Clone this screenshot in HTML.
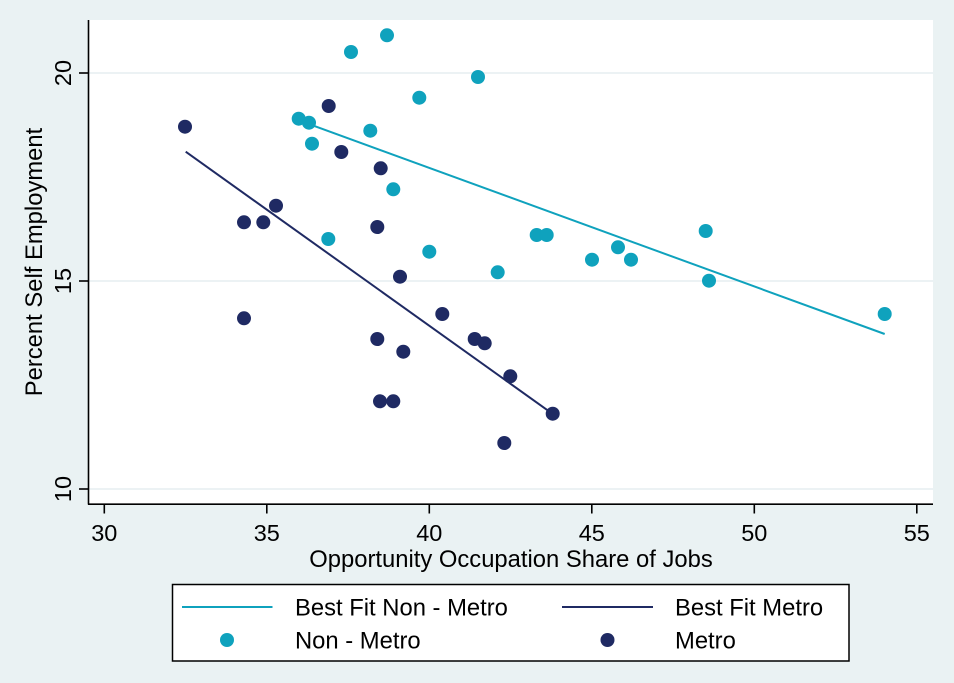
<!DOCTYPE html>
<html>
<head>
<meta charset="utf-8">
<style>
  html,body{margin:0;padding:0;background:#eaf2f3;}
  svg{display:block;}
  text{font-family:"Liberation Sans",Arial,sans-serif;fill:#000;}
</style>
</head>
<body>
<svg width="954" height="683" viewBox="0 0 954 683" xmlns="http://www.w3.org/2000/svg">
  <rect x="0" y="0" width="954" height="683" fill="#eaf2f3"/>
  <rect x="88" y="20" width="845" height="484" fill="#ffffff"/>
  <g stroke="#e6eef0" stroke-width="1.6">
    <line x1="89" y1="73" x2="933" y2="73"/>
    <line x1="89" y1="281" x2="933" y2="281"/>
    <line x1="89" y1="489" x2="933" y2="489"/>
  </g>
  <g stroke="#000" stroke-width="1.6" fill="none">
    <line x1="88.5" y1="20" x2="88.5" y2="504.5"/>
    <line x1="88" y1="504.2" x2="933" y2="504.2"/>
    <line x1="79" y1="73" x2="88" y2="73"/>
    <line x1="79" y1="281" x2="88" y2="281"/>
    <line x1="79" y1="489" x2="88" y2="489"/>
    <line x1="104.3" y1="504" x2="104.3" y2="513.5"/>
    <line x1="266.8" y1="504" x2="266.8" y2="513.5"/>
    <line x1="429.3" y1="504" x2="429.3" y2="513.5"/>
    <line x1="591.8" y1="504" x2="591.8" y2="513.5"/>
    <line x1="754.3" y1="504" x2="754.3" y2="513.5"/>
    <line x1="916.8" y1="504" x2="916.8" y2="513.5"/>
  </g>
  <g font-size="23.5" text-anchor="middle">
    <text transform="translate(71,73) rotate(-90)">20</text>
    <text transform="translate(71,281) rotate(-90)">15</text>
    <text transform="translate(71,489) rotate(-90)">10</text>
  </g>
  <g font-size="23.5" text-anchor="middle">
    <text x="104.3" y="541">30</text>
    <text x="266.8" y="541">35</text>
    <text x="429.3" y="541">40</text>
    <text x="591.8" y="541">45</text>
    <text x="754.3" y="541">50</text>
    <text x="916.8" y="541">55</text>
  </g>
  <text x="511" y="567" font-size="23.8" text-anchor="middle">Opportunity Occupation Share of Jobs</text>
  <text transform="translate(42,262) rotate(-90)" font-size="23.8" text-anchor="middle">Percent Self Employment</text>

  <line x1="299" y1="120.4" x2="884.7" y2="334" stroke="#0fa2bd" stroke-width="2"/>
  <line x1="185.7" y1="151.7" x2="552.7" y2="413.9" stroke="#1f2a63" stroke-width="2"/>

  <g fill="#0fa2bd">
    <circle cx="351" cy="52" r="7"/>
    <circle cx="387" cy="35.3" r="7"/>
    <circle cx="478" cy="77" r="7"/>
    <circle cx="419.3" cy="97.7" r="7"/>
    <circle cx="298.7" cy="118.7" r="7"/>
    <circle cx="309" cy="122.7" r="7"/>
    <circle cx="370.3" cy="130.7" r="7"/>
    <circle cx="312" cy="143.7" r="7"/>
    <circle cx="393.3" cy="189.3" r="7"/>
    <circle cx="328.3" cy="239" r="7"/>
    <circle cx="429.3" cy="251.7" r="7"/>
    <circle cx="497.7" cy="272.3" r="7"/>
    <circle cx="536.7" cy="235" r="7"/>
    <circle cx="546.7" cy="235" r="7"/>
    <circle cx="592" cy="259.7" r="7"/>
    <circle cx="618" cy="247.3" r="7"/>
    <circle cx="631" cy="259.7" r="7"/>
    <circle cx="705.7" cy="231" r="7"/>
    <circle cx="709" cy="280.7" r="7"/>
    <circle cx="884.7" cy="314" r="7"/>
  </g>
  <g fill="#1f2a63">
    <circle cx="185" cy="126.7" r="7"/>
    <circle cx="328.7" cy="106" r="7"/>
    <circle cx="341.3" cy="152" r="7"/>
    <circle cx="380.7" cy="168.3" r="7"/>
    <circle cx="276" cy="205.7" r="7"/>
    <circle cx="244" cy="222.3" r="7"/>
    <circle cx="263.3" cy="222.3" r="7"/>
    <circle cx="377.3" cy="227" r="7"/>
    <circle cx="244" cy="318.3" r="7"/>
    <circle cx="377.3" cy="339" r="7"/>
    <circle cx="403.3" cy="351.7" r="7"/>
    <circle cx="400" cy="276.7" r="7"/>
    <circle cx="442.3" cy="314" r="7"/>
    <circle cx="474.7" cy="339" r="7"/>
    <circle cx="484.7" cy="343.3" r="7"/>
    <circle cx="510.3" cy="376.3" r="7"/>
    <circle cx="552.7" cy="413.7" r="7"/>
    <circle cx="380" cy="401.3" r="7"/>
    <circle cx="393.3" cy="401.3" r="7"/>
    <circle cx="504.3" cy="443" r="7"/>
  </g>

  <rect x="172.5" y="584.5" width="676.5" height="76.5" fill="#ffffff" stroke="#000" stroke-width="1.5"/>
  <line x1="182" y1="607" x2="272.5" y2="607" stroke="#0fa2bd" stroke-width="2"/>
  <line x1="562" y1="607" x2="653" y2="607" stroke="#1f2a63" stroke-width="2"/>
  <circle cx="227" cy="640" r="7" fill="#0fa2bd"/>
  <circle cx="607.5" cy="640" r="7" fill="#1f2a63"/>
  <g font-size="23.8">
    <text x="295" y="615.5">Best Fit Non - Metro</text>
    <text x="675" y="615.5">Best Fit Metro</text>
    <text x="295" y="648.5">Non - Metro</text>
    <text x="675" y="648.5">Metro</text>
  </g>
</svg>
</body>
</html>
